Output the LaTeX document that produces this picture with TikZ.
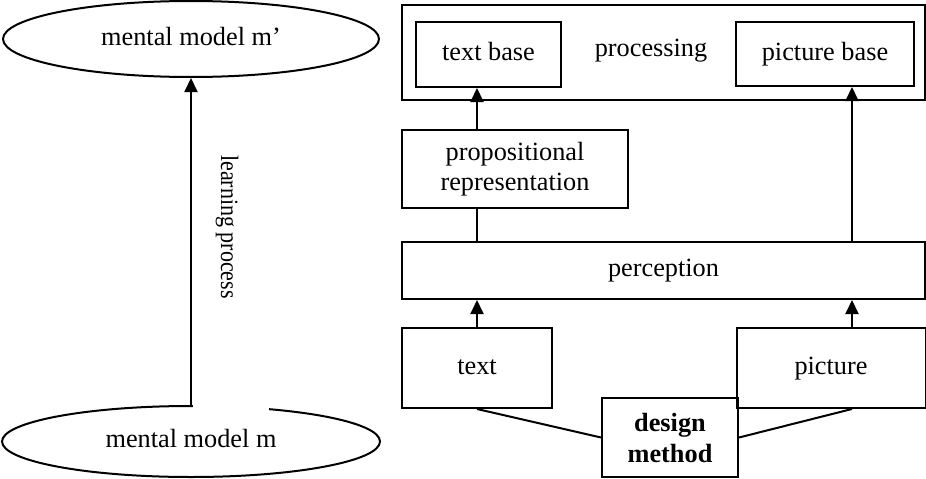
\documentclass[tikz,border=0pt]{standalone}
\usepackage{fontspec}
\setmainfont{Liberation Serif}
\usetikzlibrary{shapes.geometric,arrows.meta}
\begin{document}
\begin{tikzpicture}[x=1pt,y=-1pt,
  every node/.style={font=\fontsize{26.3}{30}\selectfont, inner sep=0pt, align=center},
  one/.style={text height=18pt, text depth=6pt},
  boxn/.style={draw, line width=2pt, rectangle},
  ell/.style={draw, line width=2pt, ellipse},
  arr/.style={line width=2pt, -{Triangle[length=14pt,width=13pt]}},
  ln/.style={line width=2pt}]
\useasboundingbox (0,0) rectangle (926,479);
% left part
\node[ell, one, minimum width=376pt, minimum height=76pt] (m2) at (191,39) {mental model m’};
\node[ell, one, minimum width=378pt, minimum height=71pt] (m1) at (191,441.5) {mental model m};
\fill[white] (193,402) rectangle (269,415);
\draw[arr] (m1.north) -- (m2.south);
\node[rotate=-90, font=\fontsize{25}{28}\selectfont] (lp) at (227,227) {\scalebox{0.88}[1]{learning process}};
% right part
\node[boxn, minimum width=523pt, minimum height=95pt] (proc) at (663.5,52.5) {};
\node[one] (proctxt) at (651,50) {processing};
\node[boxn, one, minimum width=145pt, minimum height=65pt] (tb) at (488.5,54.5) {text base};
\node[boxn, one, minimum width=178pt, minimum height=64pt] (pb) at (825,54) {picture base};
\node[boxn, minimum width=226pt, minimum height=78pt] (prop) at (515,169) {propositional\\representation};
\node[boxn, one, minimum width=523pt, minimum height=57pt] (perc) at (663.5,270.5) {perception};
\node[boxn, one, minimum width=150pt, minimum height=80pt] (txt) at (477,368) {text};
\node[boxn, one, minimum width=189pt, minimum height=80pt] (pic) at (831,368) {picture};
\node[boxn, minimum width=136pt, minimum height=79pt, font=\fontsize{26.3}{31}\selectfont\bfseries] (dm) at (670,437.5) {design\\method};
\coordinate (cx) at (852,0);
% connectors
\draw[arr] (txt.north) -- (txt.north |- perc.south);
\draw[arr] (pic.north -| cx) -- (perc.south -| cx);
\draw[ln] (prop.south -| txt.north) -- (perc.north -| txt.north);
\draw[arr] (prop.north -| txt.north) -- (tb.south -| txt.north);
\draw[arr] (perc.north -| cx) -- (pb.south -| cx);
\draw[ln] (txt.south) -- (dm.west);
\draw[ln] (pic.south -| cx) -- (dm.east);
\end{tikzpicture}
\end{document}
